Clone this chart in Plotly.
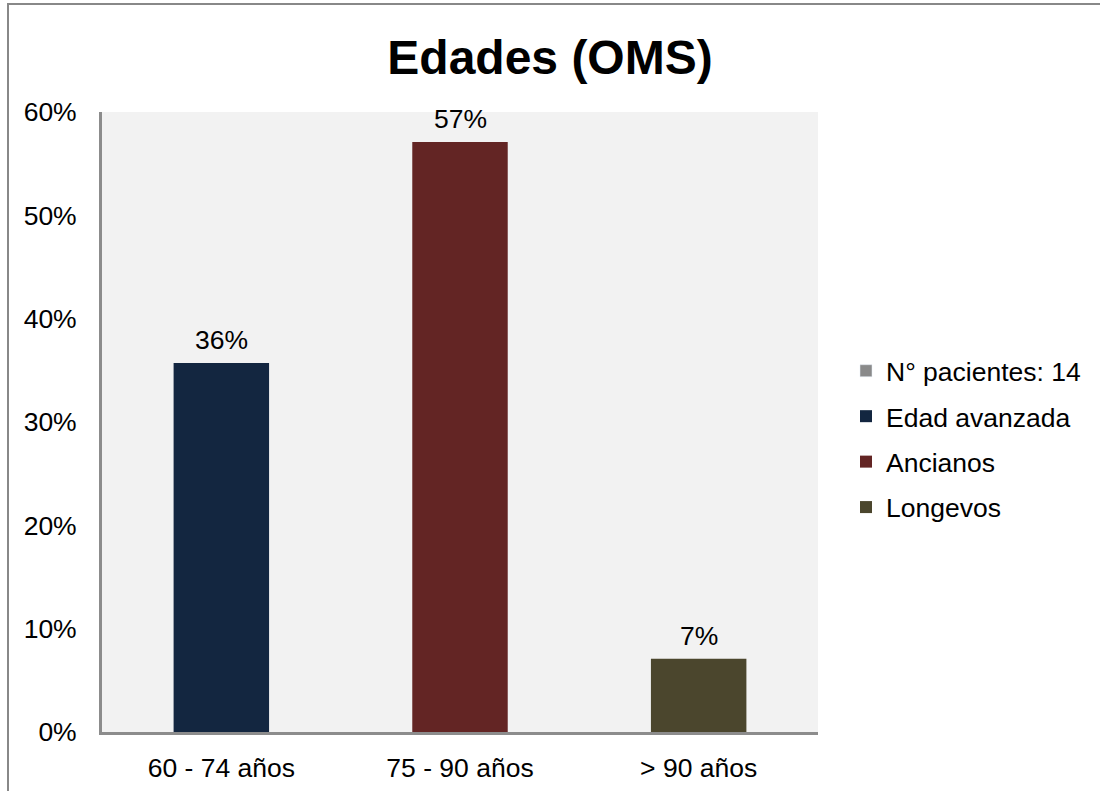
import plotly.graph_objects as go

categories = ["60 - 74 años", "75 - 90 años", "> 90 años"]
series_names = ["Edad avanzada", "Ancianos", "Longevos"]
values = [0.357, 0.571, 0.071]
colors = ["#132640", "#632524", "#4b462d"]
extra_legend = "N° pacientes: 14"
extra_color = "#8a8a8a"
ytick_vals = [0, 0.1, 0.2, 0.3, 0.4, 0.5, 0.6]

FONT = "Arial, Liberation Sans, sans-serif"
FS = 26.5

fig = go.Figure()
fig.add_trace(go.Bar(
    x=[categories[0]], y=[None], name=extra_legend,
    marker=dict(color=extra_color), legendgroup="g0", showlegend=True,
    hoverinfo="skip",
))
for i, (cat, val, name, col) in enumerate(zip(categories, values, series_names, colors)):
    fig.add_trace(go.Bar(
        x=[cat], y=[val], name=name, legendgroup=f"g{i+1}",
        marker=dict(color=col, line=dict(width=0)),
        width=0.4,
    ))
    fig.add_annotation(
        x=cat, y=val, xref="x", yref="y",
        text=f"{val:.0%}", showarrow=False,
        yanchor="bottom", yshift=6,
        font=dict(family=FONT, size=FS, color="#000000"),
    )

fig.update_layout(
    width=1100, height=791,
    margin=dict(l=102, r=282, t=112, b=59, autoexpand=False),
    paper_bgcolor="#ffffff",
    plot_bgcolor="#f2f2f2",
    barmode="overlay",
    font=dict(family=FONT, size=FS, color="#000000"),
    title=dict(
        text="<b>Edades (OMS)</b>",
        x=0.5, xref="container", xanchor="center",
        y=1 - 57 / 791, yref="container", yanchor="middle",
        font=dict(family=FONT, size=48, color="#000000"),
    ),
    legend=dict(
        x=(846 - 102) / 716, xanchor="left",
        y=(732 - 439) / 620, yanchor="middle",
        font=dict(family=FONT, size=FS, color="#000000"),
        tracegroupgap=8,
        bgcolor="rgba(0,0,0,0)",
    ),
    showlegend=True,
    shapes=[dict(
        type="rect", xref="paper", yref="paper",
        x0=(8 - 102) / 716, x1=1.6, y0=-0.3, y1=(732 - 4) / 620,
        line=dict(color="#888888", width=2), fillcolor="rgba(0,0,0,0)",
        layer="below",
    )],
)
fig.update_xaxes(
    type="category", categoryorder="array", categoryarray=categories,
    showline=True, linecolor="#8c8c8c", linewidth=3,
    showgrid=False, zeroline=False, automargin=False,
    ticks="outside", ticklen=0, ticklabelstandoff=10,
    tickfont=dict(family=FONT, size=FS, color="#000000"),
)
fig.update_yaxes(
    range=[0, 0.6], tickvals=ytick_vals, tickformat=".0%",
    showline=True, linecolor="#8c8c8c", linewidth=3,
    showgrid=False, zeroline=False, automargin=False,
    ticks="outside", ticklen=0, ticklabelstandoff=17,
    tickfont=dict(family=FONT, size=FS, color="#000000"),
)

fig.write_html("out.html")
